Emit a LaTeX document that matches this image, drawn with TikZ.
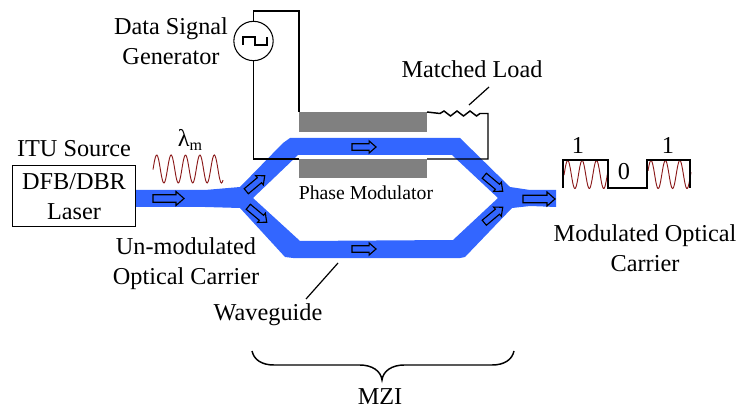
\documentclass[tikz,border=0pt]{standalone}
\usepackage{fontspec}
\setmainfont{Liberation Serif}
\usepackage{xcolor}
\definecolor{guideblue}{HTML}{3366FF}
\definecolor{waveRed}{HTML}{8B1A1A}
\tikzset{
  wire/.style={line width=1.1pt,line join=miter},
  thinwire/.style={line width=0.9pt},
  label/.style={align=center,inner sep=0pt,font=\fontsize{18.2}{22.5}\selectfont},
  electrode/.style={fill=gray,inner sep=0pt,outer sep=0pt,minimum width=96pt},
  flowarrow/.pic={\draw[line width=0.85pt,line join=miter] (-#1,-3.8)--(#1-8,-3.8)--(#1-8,-7)--(#1,0)--(#1-8,7)--(#1-8,3.8)--(-#1,3.8)--cycle;},
  carrierwave/.style={waveRed,line width=0.7pt}
}
\newcommand{\carrier}[5]{\draw[carrierwave] plot[domain=#1:#2,samples=90,smooth] (\x,{#4-#5*cos(25*(\x-#3))});}
\begin{document}
\begin{tikzpicture}[x=0.75pt,y=-0.75pt]
    \useasboundingbox (0,0) rectangle (737,409);
    % waveguide
    \fill[guideblue,even odd rule] (135,190)--(205,190)--(240,187)--(283,143)--(290,138)--(460,138)--(510,187)--(530,190)--(556,190)--(556,207)--(530,206)--(512,208)--(465,257)--(460,258)--(293,258)--(285,257)--(240,208)--(205,207)--(135,207)--cycle
      (253,198)--(298,155)--(452,155)--(498,198)--(453,240)--(300,241)--cycle;
    % electrodes and source
    \node[electrode,minimum height=15pt] (topelec) at (363,122) {};
    \node[electrode,minimum height=14.25pt] (botelec) at (363,168.5) {};
    \node[draw,line width=0.7pt,inner sep=0pt,outer sep=0pt,minimum width=92.25pt,minimum height=45.75pt] (laser) at (73.5,195.5) {};
    \node[label] (laserlabel) at (74,197) {DFB/DBR\\Laser};
    \node[draw,circle,line width=0.8pt,inner sep=0pt,outer sep=0pt,minimum size=29.5pt] (gen) at (253.5,41) {};
    \draw[thinwire](gen)++(-10.5,4)--++(0,-8)--++(12,0)--++(0,8)--++(12,0)--++(0,-8);
    % wires
    \coordinate (wiretop) at (299,11);
    \coordinate (loadleft) at (440,113.5);
    \coordinate (loadcorner) at (488,113.5);
    \draw[wire](gen.north)|-(wiretop)--(topelec.north west);
    \draw[wire](gen.south)|-(botelec.north west);
    \draw[wire](botelec.north east)-|(loadcorner)--++(-8,0)--++(-3.5,2.5)--++(-6.5,-5)--++(-6.5,5)--++(-6.5,-5)--++(-6.5,5)--++(-6.5,-5)--(loadleft)--(topelec.north east);
    % arrows on the guide
    \pic at (168.5,198.5) {flowarrow=15.5};
    \pic[rotate=40,scale=0.86] at (255.5,183.5) {flowarrow=14};
    \pic[rotate=-40,scale=0.86] at (257.5,214.5) {flowarrow=14};
    \pic[scale=0.86] at (364,147) {flowarrow=14};
    \pic[scale=0.86] at (364,249) {flowarrow=14};
    \pic[rotate=-40,scale=0.86] at (493.5,183.5) {flowarrow=14};
    \pic[rotate=40,scale=0.86] at (493.5,215) {flowarrow=14};
    \pic at (539,199) {flowarrow=16};
    % carriers
    \carrier{153}{223}{156.7}{169}{14}
    \carrier{564}{608}{567.7}{174.5}{14}
    \carrier{648}{691}{651}{174.5}{14}
    \draw[wire](563,188)--(563,160)--(608,160)--(608,188)--(647,188)--(647,160)--(690,160)--(690,188);
    % labels
    \node[label] (itu) at (74,148.5) {ITU Source};
    \node[label] (lambda) at (190,140) {λ\raisebox{-3pt}{\fontsize{12}{12}\selectfont m}};
    \node[label] (unmod) at (186,263.5) {Un-modulated\\Optical Carrier};
    \node[label] (datagen) at (171,41.5) {Data Signal\\Generator};
    \node[label] (load) at (472,69) {Matched Load};
    \node[label,font=\fontsize{14.8}{18}\selectfont] (phasemod) at (366,193) {Phase Modulator};
    \node[label] (modcarrier) at (645,248.5) {Modulated Optical\\Carrier};
    \node[label] (wguide) at (268,314.5) {Waveguide};
    \node[label] (mzi) at (380,397) {MZI};
    \node[label] (bitone) at (578,145) {1};
    \node[label] (bitzero) at (624,172) {0};
    \node[label] (bittwo) at (668,145) {1};
    % leaders and brace
    \coordinate (loadtip) at (469,105);
    \coordinate (loadend) at (489,87);
    \coordinate (guidetip) at (338,263);
    \coordinate (guideend) at (306,299);
    \draw[thinwire](loadend)--(loadtip);
    \draw[thinwire](guideend)--(guidetip);
    \draw[wire](252,351) .. controls (254,360) and (262,365) .. (274,365)--(360,365) .. controls (372,365) and (381,371) .. (382,380) .. controls (383,371) and (392,365) .. (404,365)--(492,365) .. controls (504,365) and (512,360) .. (514,351);
\end{tikzpicture}
\end{document}
